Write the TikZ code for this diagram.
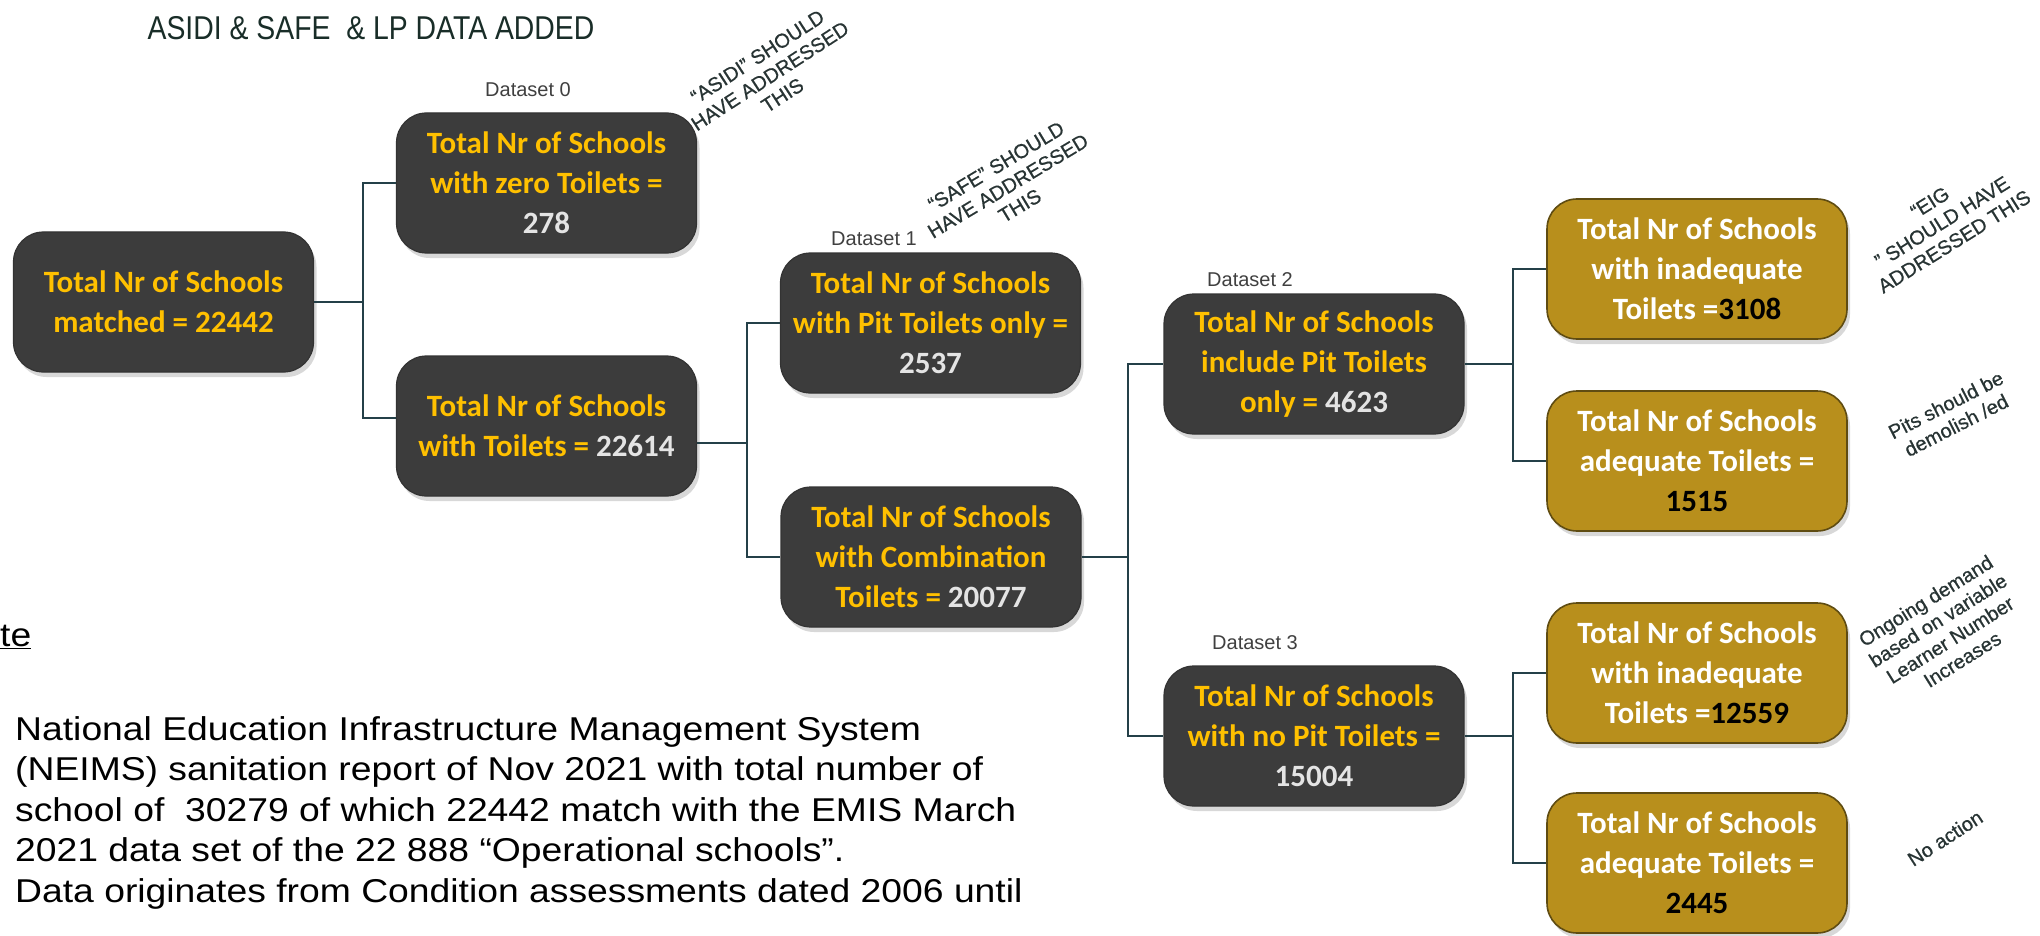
\documentclass[tikz,border=0pt]{standalone}
\usepackage{fontspec}
\setmainfont{Liberation Sans}
\newfontfamily\boxfont{Carlito}
\newfontfamily\widefont[FakeStretch=1.13]{Liberation Sans}
\newfontfamily\notefont[FakeBold=0.6]{Liberation Sans}
\usetikzlibrary{shadows}
\definecolor{boxdark}{RGB}{60,60,60}
\definecolor{boxgold}{RGB}{184,143,28}
\definecolor{goldline}{RGB}{95,76,18}
\definecolor{txtyellow}{RGB}{255,192,0}
\definecolor{txtgrey}{RGB}{228,228,228}
\definecolor{linkcol}{RGB}{36,64,72}
\definecolor{notecol}{RGB}{40,52,52}
\definecolor{titlecol}{RGB}{25,45,40}
\newcommand\nval[1]{\textcolor{txtgrey}{#1}}
\newcommand\gval[1]{\textcolor{black}{#1}}
\begin{document}
\begin{tikzpicture}[x=1pt,y=-1pt,
	darkbox/.style={draw=black!80,line width=1.2pt,fill=boxdark,rounded corners=30pt,minimum width=300pt,minimum height=140pt,inner sep=2pt,align=center,text=txtyellow,font=\boxfont\bfseries\fontsize{31}{40}\selectfont,drop shadow={shadow xshift=3pt,shadow yshift=-5pt,opacity=.3}},
	goldbox/.style={darkbox,draw=goldline,line width=1.6pt,fill=boxgold,text=white},
	linkline/.style={draw=linkcol,line width=2.7pt},
	setlabel/.style={font=\fontsize{20}{24}\selectfont,text=black!75},
	remark/.style={font=\notefont\fontsize{20}{23}\selectfont,text=notecol,align=center}]
	\fill[white] (0,0) rectangle (2040,936);
	\useasboundingbox (0,0) rectangle (2040,936);
	\node[font=\fontsize{33}{36}\selectfont,text=titlecol] (title) at (371,28) {\scalebox{0.86}[1]{ASIDI \& SAFE\ \ \& LP DATA ADDED}};
	% boxes
	\node[darkbox] (root) at (163.5,302) {Total Nr of Schools\\matched = 22442};
	\node[darkbox] (zero) at (546.5,183) {Total Nr of Schools\\with zero Toilets =\\\nval{278}};
	\node[darkbox] (toil) at (546.5,426) {Total Nr of Schools\\with Toilets = \nval{22614}};
	\node[darkbox] (pit) at (930.5,323) {Total Nr of Schools\\with Pit Toilets only =\\\nval{2537}};
	\node[darkbox] (comb) at (931,557) {Total Nr of Schools\\with Combination\\Toilets = \nval{20077}};
	\node[darkbox] (inc) at (1314,364) {Total Nr of Schools\\include Pit Toilets\\only = \nval{4623}};
	\node[darkbox] (nopit) at (1314,736) {Total Nr of Schools\\with no Pit Toilets =\\\nval{15004}};
	\node[goldbox] (inad1) at (1697,269) {Total Nr of Schools\\with inadequate\\Toilets =\gval{3108}};
	\node[goldbox] (ad1) at (1697,461) {Total Nr of Schools\\adequate Toilets =\\\gval{1515}};
	\node[goldbox] (inad2) at (1697,673) {Total Nr of Schools\\with inadequate\\Toilets =\gval{12559}};
	\node[goldbox] (ad2) at (1697,863) {Total Nr of Schools\\adequate Toilets =\\\gval{2445}};
	% connectors
	\coordinate (j0) at (363,302);
	\coordinate (j1) at (747,443);
	\coordinate (j2) at (1128,557);
	\coordinate (j3) at (1513,364);
	\coordinate (j4) at (1513,736);
	\draw[linkline] (root.east) -- (j0) |- (zero.west);
	\draw[linkline] (j0) |- ([yshift=8pt]toil.west);
	\draw[linkline] ([yshift=-17pt]toil.east) -- (j1) |- (pit.west);
	\draw[linkline] (j1) |- (comb.west);
	\draw[linkline] (comb.east) -- (j2) |- (inc.west);
	\draw[linkline] (j2) |- (nopit.west);
	\draw[linkline] (inc.east) -- (j3) |- (inad1.west);
	\draw[linkline] (j3) |- (ad1.west);
	\draw[linkline] (nopit.east) -- (j4) |- (inad2.west);
	\draw[linkline] (j4) |- (ad2.west);
	\node[setlabel] (ds0) at (528,90) {Dataset 0};
	\node[setlabel] (ds1) at (874,239) {Dataset 1};
	\node[setlabel] (ds2) at (1250,280) {Dataset 2};
	\node[setlabel] (ds3) at (1255,643) {Dataset 3};
	\foreach \pos/\ang/\txt [count=\i] in {
		{(770,76)}/33/{“ASIDI” SHOULD\\HAVE ADDRESSED\\THIS},
		{(1008,186)}/31/{“SAFE” SHOULD\\HAVE ADDRESSED\\THIS},
		{(1942,222)}/32/{“EIG\\” SHOULD HAVE\\ADDRESSED THIS},
		{(1951,415)}/27/{Pits should be\\demolish /ed},
		{(1944,630)}/32/{Ongoing demand\\based on variable\\Learner Number\\Increases},
		{(1945,838)}/33/{No action}}
	\node[remark,rotate=\ang] (note\i) at \pos {\txt};
	\node[anchor=base west,inner sep=0pt,font=\widefont\fontsize{33}{40}\selectfont] (notehead) at (0,646) {\underline{te}};
	\node[anchor=north west,align=left,inner sep=0pt,font=\widefont\fontsize{33}{40.5}\selectfont] (neims) at (15,716) {National Education Infrastructure Management System\\(NEIMS) sanitation report of Nov 2021 with total number of\\school of\ \ 30279 of which 22442 match with the EMIS March\\2021 data set of the 22 888 “Operational schools”.\\Data originates from Condition assessments dated 2006 until};
\end{tikzpicture}
\end{document}
